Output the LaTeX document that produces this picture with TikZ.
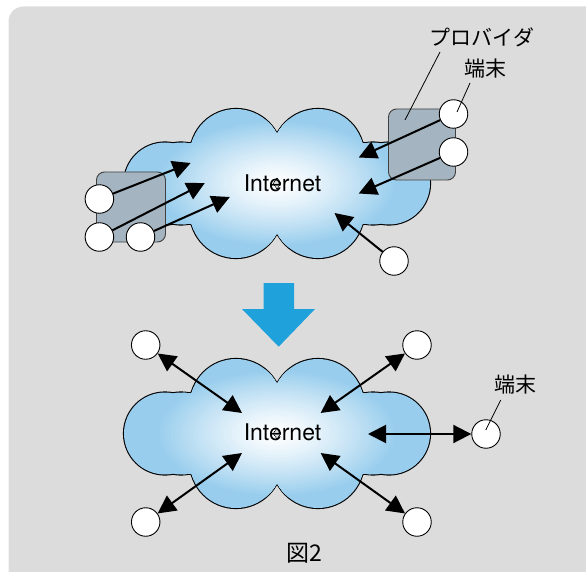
\documentclass[tikz,border=0pt]{standalone}
\usepackage{fontspec}
\setmainfont{TeX Gyre Heros}
\newfontfamily\jpfont{Noto Sans CJK JP}
\usetikzlibrary{arrows.meta}

\definecolor{bggray}{HTML}{DCDCDC}
\definecolor{cloudblue}{HTML}{98CDED}
\definecolor{boxgray}{HTML}{A4B4C0}
\definecolor{downblue}{HTML}{1FA1DC}

\tikzset{
  term/.style={shape=circle,draw,fill=white,line width=0.9pt,minimum size=28.5pt,inner sep=0pt},
  prov/.style={draw=black!75,fill=boxgray,line width=0.9pt,rounded corners=8pt},
  link/.style={line width=2pt,-{Triangle[length=18pt,width=18pt]}},
  dlink/.style={line width=2pt,{Triangle[length=18pt,width=18pt]}-{Triangle[length=18pt,width=18pt]}},
  leader/.style={line width=0.8pt},
  lbl/.style={font=\jpfont\fontsize{21pt}{21pt}\selectfont,inner sep=0pt},
  net/.style={font=\fontsize{23pt}{23pt}\selectfont,inner sep=0pt},
  cloud/.pic={
    \draw[line width=2.2pt] \foreach \cx/\cy/\rad in {-41/-28.5/46,41/-28.5/46,-41/28.5/46,41/28.5/46,-112/0/41,-96/0/41,-80/0/41,112/0/41,96/0/41,80/0/41} {(\cx,\cy) circle[radius=\rad]};
    \begin{scope}
    \clip \foreach \cx/\cy/\rad in {-41/-28.5/46,41/-28.5/46,-41/28.5/46,41/28.5/46,-112/0/41,-96/0/41,-80/0/41,112/0/41,96/0/41,80/0/41} {(\cx,\cy) circle[radius=\rad]};
    \fill[cloudblue] (-160,-80) rectangle (160,80);
    % soft white centre
    \foreach \k [evaluate=\k as \pct using 100*(\k/32)^1.3] in {32,31,...,1}
      \fill[cloudblue!\pct!white] (0,0) ellipse [x radius=3.8*\k, y radius=2*\k];
    \end{scope}
  }
}

\begin{document}
\begin{tikzpicture}[x=1pt,y=-1pt]
\useasboundingbox (0,0) rectangle (586,572);
\fill[bggray,rounded corners=15pt] (8.5,6.5) rectangle (610,600);

% before
\pic (up) at (277,183.5) {cloud};
\node(net0) at (282.5,183.5) [net] {Internet};
\node(p0) at (131,207) [prov,minimum width=69pt,minimum height=70pt] {};
\node(p1) at (422,144.5) [prov,minimum width=67pt,minimum height=71pt] {};
\node(t0) at (99.4,199) [term] {};
\node(t1) at (99.4,237) [term] {};
\node(t2) at (140.5,237) [term] {};
\node(t3) at (453.5,114) [term] {};
\node(t4) at (453.5,152) [term] {};
\node(t5) at (394,261) [term] {};
\coordinate(h0) at (190.6,163);
\coordinate(h1) at (204.8,183);
\coordinate(h2) at (229.8,197);
\coordinate(h3) at (358.7,157.5);
\coordinate(h4) at (358.7,193.5);
\coordinate(h5) at (334.5,213);
\path [link]
(t0) edge (h0)
(t1) edge (h1)
(t2) edge (h2)
(t3) edge (h3)
(t4) edge (h4)
(t5) edge (h5);
\node(isp) at (482,37.5) [lbl] {プロバイダ};
\node(term0) at (485,68.5) [lbl] {端末};
\coordinate(l0) at (440,52);
\coordinate(l1) at (405,120);
\coordinate(l2) at (470,83);
\coordinate(l3) at (457,112);
\draw[leader] (l0) -- (l1);
\draw[leader] (l2) -- (l3);

% arrow down
\fill[downblue] (263.5,283) -- (294,283) -- (294,309) -- (315,309) -- (278.7,346.7) -- (242,309) -- (263.5,309) -- cycle;

% after
\pic (down) at (277,433.5) {cloud};
\node(net1) at (282.5,432) [net] {Internet};
\node(n0) at (145.7,345) [term] {};
\node(n1) at (417,345) [term] {};
\node(n2) at (145.7,522) [term] {};
\node(n3) at (417,522) [term] {};
\node(n4) at (486,434) [term] {};
\coordinate(g0) at (242,413);
\coordinate(g1) at (320.6,413);
\coordinate(g2) at (242,453);
\coordinate(g3) at (320.6,453);
\coordinate(g4) at (368,434);
\path [dlink]
(n0) edge (g0)
(n1) edge (g1)
(n2) edge (g2)
(n3) edge (g3)
(n4) edge (g4);
\node(term1) at (515.5,385) [lbl] {端末};
\coordinate(l4) at (500.7,400);
\coordinate(l5) at (485.8,430);
\draw[leader] (l4) -- (l5);
\node(fig) at (304.5,553) [lbl,font=\jpfont\fontsize{23pt}{23pt}\selectfont] {図2};
\end{tikzpicture}
\end{document}
